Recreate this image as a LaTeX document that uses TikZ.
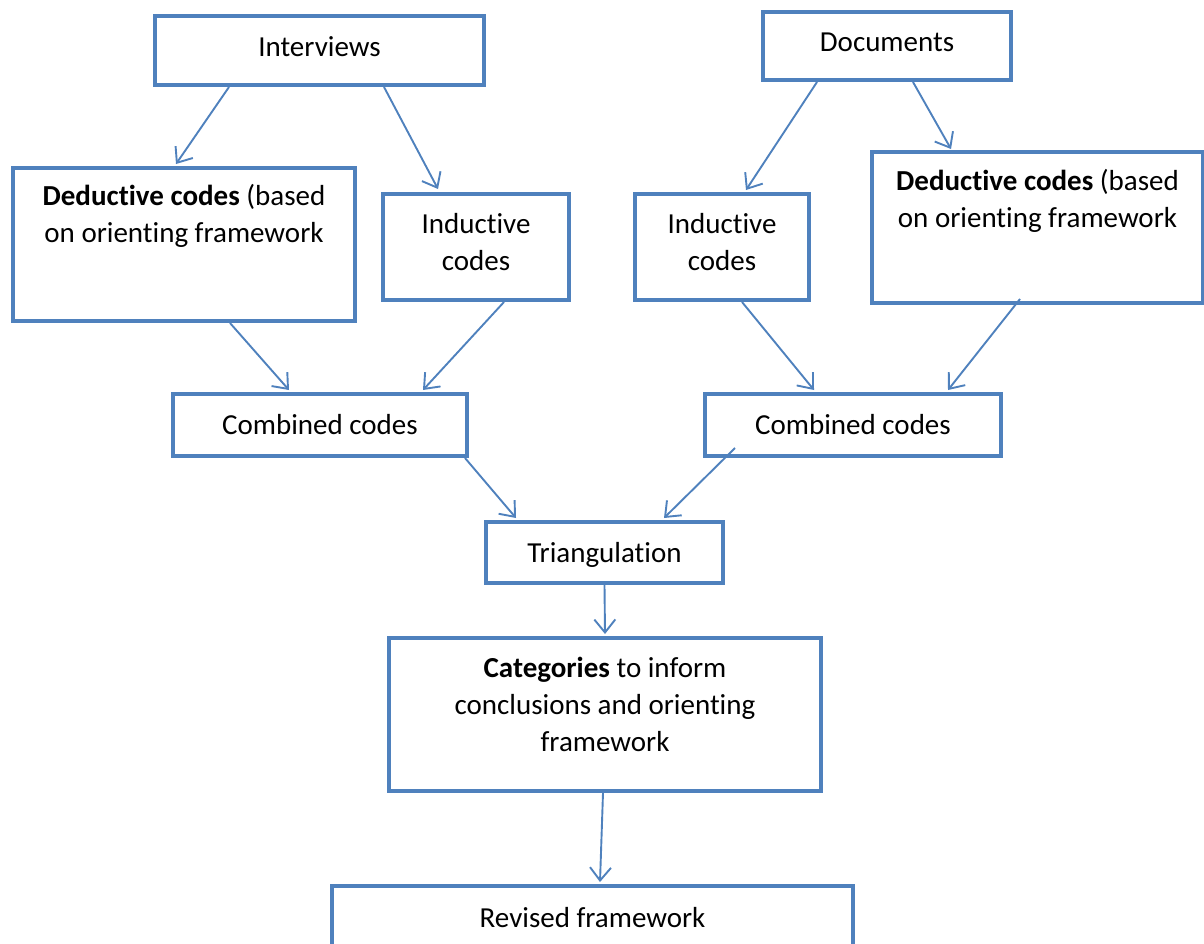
\documentclass[tikz,border=0pt]{standalone}
\usepackage{fontspec}
\setmainfont{Carlito}[RawFeature={-liga;-clig;-calt;-dlig}]
\usetikzlibrary{arrows.meta}
\definecolor{boxblue}{HTML}{4F81BD}
% keep "t" and "i" as separate glyphs
\newcommand{\tsep}{t\kern0pt i}
\tikzset{
  box/.style={draw=boxblue, line width=4pt, rectangle, inner sep=0pt},
  txt/.style={align=center, inner sep=0pt, font=\fontsize{29}{37}\selectfont, text=black},
  flow/.style={draw=boxblue, line width=1.9pt, -{Straight Barb[length=13pt,width=21pt,line width=1.9pt]}}
}
\begin{document}
\begin{tikzpicture}[x=1pt,y=-1pt]
\useasboundingbox (0,0) rectangle (1204,943);
\clip (0,0) rectangle (1204,943);

% boxes
\node[box, minimum width=329, minimum height=69] (intv) at (319.5,50.5) {};
\node[box, minimum width=248, minimum height=68] (docs) at (887,46) {};
\node[box, minimum width=342, minimum height=153] (dedL) at (184,244.5) {};
\node[box, minimum width=186, minimum height=106] (indL) at (476,247) {};
\node[box, minimum width=174, minimum height=106] (indR) at (722,247) {};
\node[box, minimum width=331, minimum height=151] (dedR) at (1037.5,227.5) {};
\node[box, minimum width=294, minimum height=62] (combL) at (320,425) {};
\node[box, minimum width=296, minimum height=62] (combR) at (853,425) {};
\node[box, minimum width=237, minimum height=61] (tri) at (604.5,552.5) {};
\node[box, minimum width=432, minimum height=153] (cat) at (605,714.5) {};
\node[box, minimum width=521, minimum height=100] (rev) at (592.5,936) {};

% labels (yshift is measured upwards)
\node[txt] (intvT) at ([yshift=4pt]intv.center) {Interviews};
\node[txt] (docsT) at ([yshift=4pt]docs.center) {Documents};
\node[txt] (dedLT) at ([yshift=-50pt]dedL.north) {\textbf{Deduc\tsep ve codes} (based\\on orien\tsep ng framework};
\node[txt] (indLT) at ([yshift=5pt]indL.center) {Induc\tsep ve\\codes};
\node[txt] (indRT) at ([yshift=5pt]indR.center) {Induc\tsep ve\\codes};
\node[txt] (dedRT) at ([yshift=-51pt]dedR.north) {\textbf{Deduc\tsep ve codes} (based\\on orien\tsep ng framework};
\node[txt] (combLT) at (combL.center) {Combined codes};
\node[txt] (combRT) at (combR.center) {Combined codes};
\node[txt] (triT) at ([yshift=-2pt]tri.center) {Triangulation};
\node[txt] (catT) at ([yshift=-68pt]cat.north) {\textbf{Categories} to inform\\conclusions and orien\tsep ng\\framework};
\node[txt] (revT) at ([yshift=-34pt]rev.north) {Revised framework};

% connectors
\draw[flow] ([xshift=-90.5pt]intv.south) -- ([xshift=-8pt,yshift=2pt]dedL.north);
\draw[flow] ([xshift=64.5pt]intv.south) -- ([xshift=-38pt,yshift=3pt]indL.north);
\draw[flow] ([xshift=-70pt]docs.south) -- ([xshift=24pt,yshift=2pt]indR.north);
\draw[flow] ([xshift=26pt]docs.south) -- ([xshift=-86.5pt,yshift=1pt]dedR.north);
\draw[flow] ([xshift=46pt]dedL.south) -- ([xshift=-31pt,yshift=2pt]combL.north);
\draw[flow] ([xshift=28pt]indL.south) -- ([xshift=103pt,yshift=2pt]combL.north);
\draw[flow] ([xshift=20pt]indR.south) -- ([xshift=-39pt,yshift=2pt]combR.north);
\draw[flow] ([xshift=-17.5pt,yshift=6pt]dedR.south) -- ([xshift=95pt,yshift=2pt]combR.north);
\draw[flow] ([xshift=145pt]combL.south) -- ([xshift=-88.5pt,yshift=2pt]tri.north);
\draw[flow] ([xshift=-118pt,yshift=10pt]combR.south) -- ([xshift=59.5pt,yshift=2pt]tri.north);
\draw[flow] (tri.south) -- ([yshift=2pt]cat.north);
\draw[flow] ([xshift=-2pt]cat.south) -- ([xshift=7.5pt,yshift=2pt]rev.north);
\end{tikzpicture}
\end{document}
